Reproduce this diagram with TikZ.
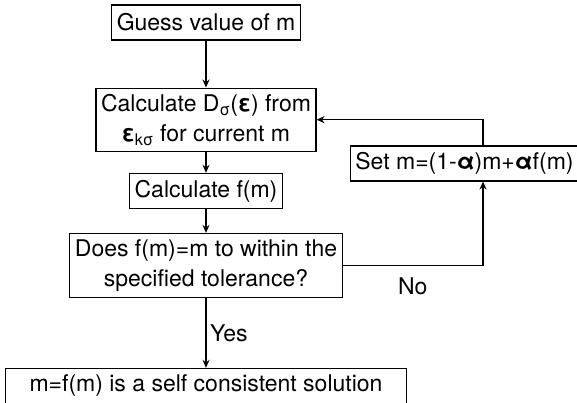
\documentclass[tikz,border=0pt]{standalone}
\usepackage{fontspec}
\setmainfont{TeX Gyre Heros}
\usetikzlibrary{positioning}
\usetikzlibrary{arrows.meta}

\begin{document}
\begin{tikzpicture}[x=1pt, y=-1pt, >={Stealth[length=8pt,width=7pt]},
  box/.style={rectangle, draw=black, line width=1.1pt, align=center,
    inner xsep=5pt, inner ysep=6pt, minimum height=35pt,
    font=\fontsize{23}{30}\selectfont},
  lbl/.style={font=\fontsize{23}{30}\selectfont},
  arr/.style={->, line width=1.5pt}]
\useasboundingbox (0,0) rectangle (577,403);
\node[box] (guess) at (206,22.5) {Guess value of m};
\node[box, below=47pt of guess] (calcD) {Calculate D\textsubscript{σ}(\textbf{ε}) from \\ \textbf{ε}\textsubscript{kσ} for current m};
\node[box, below=21pt of calcD] (calcf) {Calculate f(m)};
\node[box, below=24pt of calcf] (test) {Does f(m)=m to within the \\ specified tolerance?};
\node[box, below=70pt of test, minimum width=401pt] (done) {m=f(m) is a self consistent solution};
\node[box] (update) at (464.5,163.5) {Set m=(1-\textbf{α})m+\textbf{α}f(m)};

\draw[arr] (guess) -- (calcD);
\draw[arr] (calcD) -- (calcf);
\draw[arr] (calcf) -- (test);
\draw[arr] (test) -- node[lbl, right] {Yes} (done);
\draw[arr] (test.east) -| node[lbl, below=8pt, pos=0.25] {No} ([xshift=18.5pt]update.south);
\draw[arr] ([xshift=18.5pt]update.north) |- (calcD.east);
\end{tikzpicture}
\end{document}
